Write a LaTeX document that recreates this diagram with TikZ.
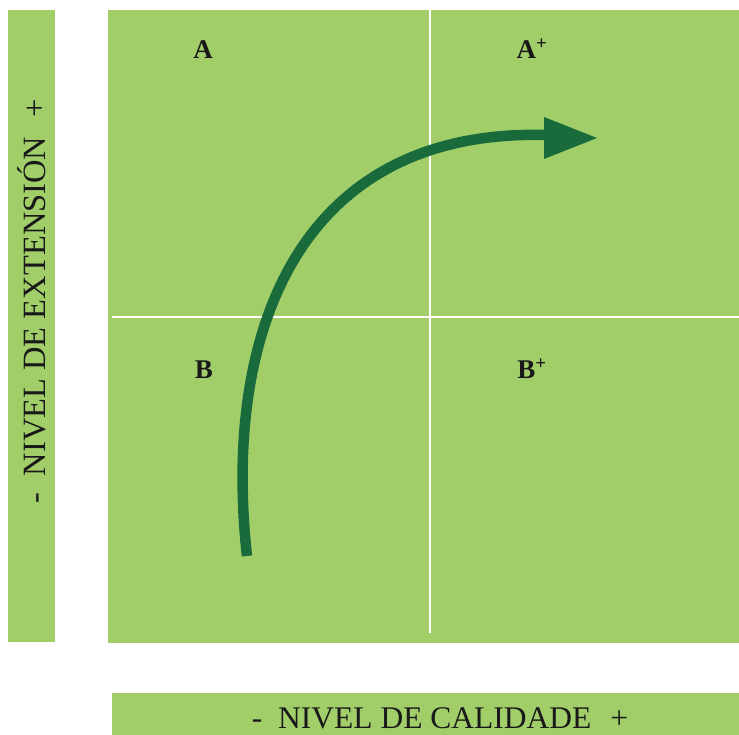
\documentclass[tikz,border=0pt]{standalone}
\usepackage{fontspec}
\setmainfont{Liberation Serif}
\definecolor{lightgreen}{RGB}{161,206,105}
\definecolor{darkgreen}{RGB}{26,107,60}
\begin{document}
\begin{tikzpicture}[x=1pt,y=-1pt,
  quadlabel/.style={font=\fontsize{27}{29}\selectfont\bfseries, text=black!90, inner sep=0pt},
  axislabel/.style={font=\fontsize{31.5}{33}\selectfont, text=black!90, inner sep=0pt},
  divider/.style={white, line width=2.5pt}]
\useasboundingbox (0,0) rectangle (739,735);
% panels
\fill[lightgreen] (8,10) rectangle (55,642);
\fill[lightgreen] (108,10) rectangle (739,643);
\fill[lightgreen] (112,693) rectangle (739,735);
% dividers
\draw[divider] (430,10) -- (430,633);
\draw[divider] (112,317) -- (739,317);
% quadrant labels
\node[quadlabel] (qa) at (203,50) {A};
\node[quadlabel] (qap) at (532,49) {A\textsuperscript{+}};
\node[quadlabel] (qb) at (204,370) {B};
\node[quadlabel] (qbp) at (532,369) {B\textsuperscript{+}};
% axis labels
\node[axislabel] (xl) at (440,718) {-\hspace{0.5em}NIVEL DE CALIDADE\hspace{0.6em}+};
\node[axislabel, font=\fontsize{32.5}{34}\selectfont, rotate=90] (yl) at (32,301) {-\hspace{0.5em}NIVEL DE EXTENSIÓN\hspace{0.6em}+};
% arrow
\coordinate (s) at (247,556);
\coordinate (e) at (547,135);
\draw[darkgreen, line width=10.5pt] (s) .. controls (222,330) and (300,128) .. (e);
\fill[darkgreen] (544,117) -- (597,138) -- (544,159) -- cycle;
\end{tikzpicture}
\end{document}
